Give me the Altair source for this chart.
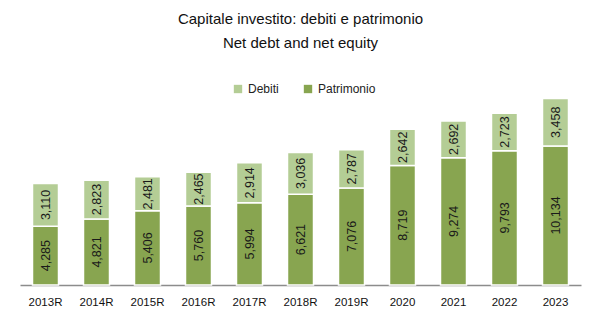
import altair as alt
import pandas as pd

years = ["2013R", "2014R", "2015R", "2016R", "2017R", "2018R", "2019R", "2020", "2021", "2022", "2023"]
patrimonio = [4285, 4821, 5406, 5760, 5994, 6621, 7076, 8719, 9274, 9793, 10134]
debiti = [3110, 2823, 2481, 2465, 2914, 3036, 2787, 2642, 2692, 2723, 3458]

rows = []
for y, p, d in zip(years, patrimonio, debiti):
    rows.append({"year": y, "series": "Patrimonio", "value": p, "ord": 0})
    rows.append({"year": y, "series": "Debiti", "value": d, "ord": 1})
df = pd.DataFrame(rows)

color = alt.Color(
    "series:N",
    scale=alt.Scale(domain=["Debiti", "Patrimonio"], range=["#B4CD95", "#88A550"]),
    legend=alt.Legend(
        title=None, orient="none", direction="horizontal", columns=2,
        legendX=212, legendY=-10, symbolType="square", symbolSize=70,
        symbolStrokeWidth=0, labelFont="Liberation Sans", labelFontSize=12,
        labelColor="#222222", columnPadding=23,
    ),
)

base = alt.Chart(df).transform_stack(
    stack="value", groupby=["year"], as_=["v0", "v1"], sort=[alt.SortField("ord", "ascending")]
).transform_calculate(mid="(datum.v0 + datum.v1) / 2")

xenc = alt.X(
    "year:N", sort=years, title=None,
    scale=alt.Scale(paddingInner=0.49, paddingOuter=0.245),
    axis=alt.Axis(labelAngle=0, ticks=False, domainColor="#8C8C8C", domainWidth=1.5,
                  labelFont="Liberation Sans", labelFontSize=11.5, labelColor="#111111",
                  labelPadding=11, grid=False),
)
yscale = alt.Scale(domain=[0, 14000], nice=False)

bars = base.mark_bar(stroke="white", strokeWidth=1.5).encode(
    x=xenc,
    y=alt.Y("v0:Q", scale=yscale, axis=None, title=None),
    y2="v1:Q",
    color=color,
)

labels = base.mark_text(angle=270, font="Liberation Sans", fontSize=12.5, color="#1a1a1a").encode(
    x=alt.X("year:N", sort=years),
    y=alt.Y("mid:Q", scale=yscale),
    text=alt.Text("value:Q", format=","),
)

chart = (bars + labels).properties(
    width=561, height=192,
    title=alt.TitleParams(
        text=["Capitale investito: debiti e patrimonio", "Net debt and net equity"],
        font="Liberation Sans", fontSize=15, fontWeight="normal", color="#111111",
        anchor="middle", offset=32, lineHeight=24,
    ),
    autosize=alt.AutoSizeParams(type="none"),
    padding={"left": 20, "top": 93, "right": 19, "bottom": 45},
).configure_view(stroke=None)

chart.save("out.html", embed_options={"renderer": "svg", "actions": False})
